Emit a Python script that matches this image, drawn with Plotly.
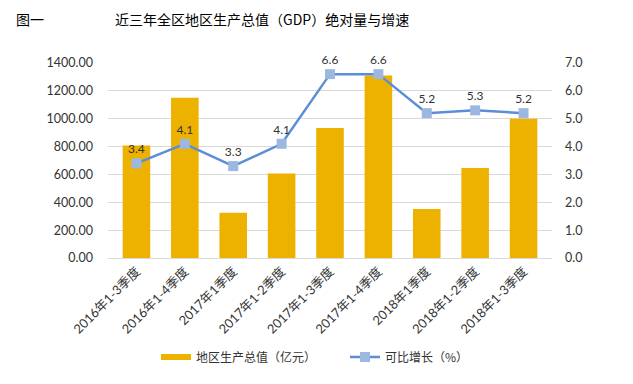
import plotly.graph_objects as go

categories = ["2016年1-3季度", "2016年1-4季度", "2017年1季度", "2017年1-2季度", "2017年1-3季度",
              "2017年1-4季度", "2018年1季度", "2018年1-2季度", "2018年1-3季度"]
gdp = [808, 1150, 325, 607, 933, 1311, 352, 647, 1000]
growth = [3.4, 4.1, 3.3, 4.1, 6.6, 6.6, 5.2, 5.3, 5.2]
left_ticks = [0, 200, 400, 600, 800, 1000, 1200, 1400]
right_ticks = [0, 1, 2, 3, 4, 5, 6, 7]

FONT = "Lato, 'Noto Sans CJK SC', sans-serif"
CJK = "'Noto Sans CJK SC', sans-serif"

OFF = 8  # page body margin
W, H = 633 - OFF, 384 - OFF
L, R, T, B = 108 - OFF, 81, 63 - OFF, 126
PW, PH = W - L - R, H - T - B


def px(x):
    return (x - OFF - L) / PW


def py(y):
    return (H - B - (y - OFF)) / PH


fig = go.Figure()
fig.add_trace(go.Bar(x=categories, y=gdp, name="地区生产总值（亿元）", showlegend=False,
                     marker=dict(color="#EDB200", line=dict(width=0))))
fig.add_trace(go.Scatter(x=[None], y=[None], name="地区生产总值（亿元）", mode="lines",
                         line=dict(color="#EDB200", width=6)))
fig.add_trace(go.Scatter(x=categories, y=growth, name="可比增长（%）", yaxis="y2",
                         mode="lines+markers+text", text=[f"{v:.1f}" for v in growth],
                         textposition="top center", cliponaxis=False,
                         textfont=dict(size=12, color="#333333", family=FONT),
                         line=dict(color="#5B8ED6", width=2.5),
                         marker=dict(symbol="square", size=10, color="#9DB8E0")))

fig.update_layout(
    width=W, height=H,
    margin=dict(l=L, r=R, t=T, b=B, autoexpand=False),
    paper_bgcolor="white", plot_bgcolor="white",
    bargap=0.43,
    font=dict(family=FONT, color="#333333", size=12),
    xaxis=dict(tickangle=-45, tickfont=dict(size=12.8, family=FONT, color="#333333"),
               showline=True, linecolor="#D9D9D9", showgrid=False, ticks="", automargin=False),
    yaxis=dict(range=[0, 1400], tickvals=left_ticks, tickformat=".2f",
               showgrid=True, gridcolor="#D9D9D9", zeroline=False, automargin=False,
               tickfont=dict(size=12.5, color="#333333"), ticklabelstandoff=14),
    yaxis2=dict(range=[0, 7], tickvals=right_ticks, tickformat=".1f", overlaying="y",
                side="right", showgrid=False, zeroline=False, automargin=False,
                tickfont=dict(size=12.5, color="#333333"), ticklabelstandoff=12),
    legend=dict(orientation="h", xref="paper", yref="paper",
                x=px(156), xanchor="left", y=py(357), yanchor="middle",
                font=dict(size=12, family=CJK, color="#333333"),
                itemwidth=30, entrywidth=144, entrywidthmode="pixels"),
    showlegend=True,
)

fig.add_annotation(text="图一", xref="paper", yref="paper", x=px(14), y=py(19),
                   xanchor="left", yanchor="middle", showarrow=False,
                   font=dict(size=14, family=CJK, color="#000000"))
fig.add_annotation(text="近三年全区地区生产总值（GDP）绝对量与增速", xref="paper", yref="paper",
                   x=px(262), y=py(19), xanchor="center", yanchor="middle", showarrow=False,
                   font=dict(size=14, family=CJK, color="#000000"))

fig.write_html("out.html")
